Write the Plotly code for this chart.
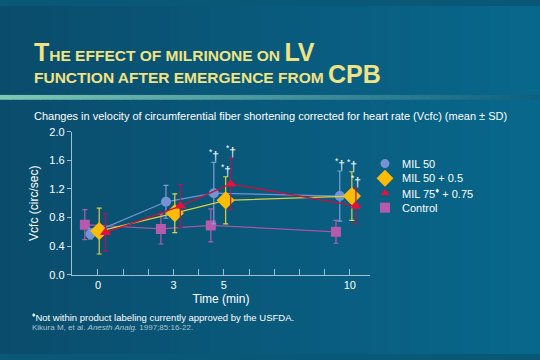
import plotly.graph_objects as go

# ---- data ----
legend_labels = ["MIL 50", "MIL 50 + 0.5", "MIL 75<sup>\u2666</sup> + 0.75", "Control"]
t_mil50 = [-0.3, 2.7, 4.6, 9.6]
v_mil50 = [0.57, 1.02, 1.14, 1.10]
sd_mil50 = [0.07, 0.23, 0.43, 0.35]

t_mil50b = [0.05, 3.05, 5.07, 10.08]
v_mil50b = [0.61, 0.86, 1.04, 1.10]
sd_mil50b = [0.32, 0.27, 0.33, 0.34]

t_mil75 = [0.3, 3.27, 5.27, 10.24]
v_mil75 = [0.59, 0.96, 1.27, 0.96]
sd_mil75 = [0.26, 0.30, 0.36, 0.25]

t_ctrl = [-0.52, 2.5, 4.48, 9.45]
v_ctrl = [0.70, 0.64, 0.69, 0.60]
sd_ctrl = [0.21, 0.21, 0.23, 0.16]

x_tick_vals = list(range(0, 11))
x_tick_labels = ["0", "", "", "3", "", "5", "", "", "", "", "10"]
y_tick_vals = [0.0, 0.4, 0.8, 1.2, 1.6, 2.0]
y_tick_labels = ["0.0", "0.4", "0.8", "1.2", "1.6", "2.0"]

# significance marks (series index, point index)
sig_marks = [(0, 2), (2, 2), (1, 2), (0, 3), (1, 3), (2, 3)]

W, H = 540, 360
FONT = "Liberation Sans, Arial, sans-serif"

styles = [
    dict(line="#7393d2", marker="#7393d2", err="#7f9fd6", symbol="circle", size=10),
    dict(line="#e0cf3a", marker="#fbbc08", err="#e2d140", symbol="diamond", size=14),
    dict(line="#c8103e", marker="#e5103c", err="#a81858", symbol="triangle-up", size=10),
    dict(line="#a456a4", marker="#b65aac", err="#b460aa", symbol="square", size=10),
]
data = [(t_mil50, v_mil50, sd_mil50), (t_mil50b, v_mil50b, sd_mil50b),
        (t_mil75, v_mil75, sd_mil75), (t_ctrl, v_ctrl, sd_ctrl)]

fig = go.Figure()

for i in [3, 0, 1, 2]:
    t, v, sd = data[i]
    s = styles[i]
    fig.add_trace(go.Scatter(
        x=t, y=v, mode="lines+markers", showlegend=False, name=legend_labels[i],
        line=dict(color=s["line"], width=1.3),
        marker=dict(symbol=s["symbol"], size=s["size"], color=s["marker"], line=dict(width=0)),
        error_y=dict(type="data", array=sd, visible=True, color=s["err"], thickness=1.2, width=2.5),
    ))

# manual legend (compact spacing) on an overlay axis in pixel units
leg_x, leg_y0, leg_dy = 385, 163, 15.2
leg_sizes = [9, 13, 8, 10]
for k in range(4):
    s = styles[k]
    fig.add_trace(go.Scatter(
        x=[leg_x], y=[leg_y0 + k * leg_dy], mode="markers",
        xaxis="x2", yaxis="y2", showlegend=False, hoverinfo="skip",
        marker=dict(symbol=s["symbol"], size=leg_sizes[k], color=s["marker"],
                    opacity=1, line=dict(width=0)),
    ))

annotations = []
for k in range(4):
    annotations.append(dict(
        x=leg_x + 15, y=leg_y0 + k * leg_dy, xref="x2", yref="y2", xanchor="left", yanchor="middle",
        text=legend_labels[k], showarrow=False, font=dict(family=FONT, size=11, color="white")))

for si, pi in sig_marks:
    t, v, sd = data[si]
    annotations.append(dict(
        x=t[pi], y=v[pi] + sd[pi], xref="x", yref="y", yanchor="bottom", xanchor="center",
        text="<sup>*</sup>\u2020", showarrow=False, yshift=-3,
        font=dict(family=FONT, size=12, color="white"),
    ))

title_col = "#f0e384"
annotations += [
    dict(x=32 / W, y=1 - 31 / H, xref="paper", yref="paper", xanchor="left", yanchor="top",
         showarrow=False, align="left",
         text="<b><span style='font-size:25px'>T</span>HE EFFECT OF MILRINONE ON "
              "<span style='font-size:25px'>LV</span></b>",
         font=dict(family=FONT, size=15.5, color=title_col)),
    dict(x=32 / W, y=1 - 54 / H, xref="paper", yref="paper", xanchor="left", yanchor="top",
         showarrow=False, align="left",
         text="<b>FUNCTION AFTER EMERGENCE FROM <span style='font-size:25px'>CPB</span></b>",
         font=dict(family=FONT, size=15.5, color=title_col)),
    dict(x=32 / W, y=1 - 114 / H, xref="paper", yref="paper", xanchor="left", yanchor="middle",
         showarrow=False,
         text="Changes in velocity of circumferential fiber shortening corrected for heart rate (Vcfc) (mean \u00b1 SD)",
         font=dict(family=FONT, size=11, color="white")),
    dict(x=30 / W, y=1 - 322 / H, xref="paper", yref="paper", xanchor="left", yanchor="middle",
         showarrow=False, text="<sup>\u2666</sup>Not within product labeling currently approved by the USFDA.",
         font=dict(family=FONT, size=9.5, color="white")),
    dict(x=30 / W, y=1 - 333 / H, xref="paper", yref="paper", xanchor="left", yanchor="middle",
         showarrow=False, text="Kikura M, et al. <i>Anesth Analg.</i> 1997;85:16-22.",
         font=dict(family=FONT, size=8, color="#a9c6d4")),
]

# background gradient strips
shapes = []
def lerp(c1, c2, f):
    f = max(0.0, min(1.0, f))
    return "rgb(%d,%d,%d)" % tuple(round(a + (b - a) * f) for a, b in zip(c1, c2))
bg_l, bg_r = (10, 76, 108), (8, 104, 140)
n = 54
for k in range(n):
    f = k / (n - 1)
    shapes.append(dict(type="rect", xref="paper", yref="paper", layer="below",
                       x0=k / n, x1=(k + 1) / n + 0.002, y0=0, y1=1,
                       fillcolor=lerp(bg_l, bg_r, f), line=dict(width=0)))
bar_l, bar_m, bar_r = (126, 200, 178), (60, 140, 152), (14, 96, 128)
for k in range(n):
    f = k / (n - 1)
    c = lerp(bar_l, bar_m, f / 0.6) if f < 0.6 else lerp(bar_m, bar_r, (f - 0.6) / 0.4)
    shapes.append(dict(type="rect", xref="paper", yref="paper", layer="below",
                       x0=k / n, x1=(k + 1) / n + 0.002, y0=1 - 97 / H, y1=1 - 92 / H,
                       fillcolor=c, line=dict(width=0)))

axis_col = "#9dbfd0"
fig.update_layout(
    width=W, height=H, margin=dict(l=0, r=0, t=0, b=0),
    paper_bgcolor="#0a5878", plot_bgcolor="rgba(0,0,0,0)",
    font=dict(family=FONT, color="white"),
    shapes=shapes, annotations=annotations, showlegend=False, hovermode=False,
    xaxis=dict(domain=[72 / W, 370 / W], range=[-1.03, 10.8], showgrid=False, zeroline=False,
               showline=True, linecolor=axis_col, linewidth=1.2, fixedrange=True,
               tickmode="array", tickvals=x_tick_vals, ticktext=x_tick_labels,
               ticks="inside", ticklen=6, tickcolor=axis_col,
               tickfont=dict(size=11, color="white"),
               title=dict(text="Time (min)", font=dict(size=12, color="white"), standoff=4)),
    yaxis=dict(domain=[1 - 278 / H, 1 - 130 / H], range=[0, 2.0], showgrid=False, zeroline=False,
               showline=True, linecolor=axis_col, linewidth=1.2, fixedrange=True,
               tickmode="array", tickvals=y_tick_vals, ticktext=y_tick_labels,
               ticks="outside", ticklen=4, tickcolor=axis_col,
               tickfont=dict(size=11, color="white"),
               title=dict(text="Vcfc (circ/sec)", font=dict(size=12, color="white"), standoff=8)),
    xaxis2=dict(domain=[0, 1], range=[0, W], visible=False, fixedrange=True, anchor="y2"),
    yaxis2=dict(domain=[0, 1], range=[H, 0], visible=False, fixedrange=True, anchor="x2"),
)

fig.write_html("out.html", config={"displayModeBar": False, "staticPlot": True},
               post_script="document.body.style.margin='0';document.body.style.padding='0';"
                           "document.body.style.overflow='hidden';")
